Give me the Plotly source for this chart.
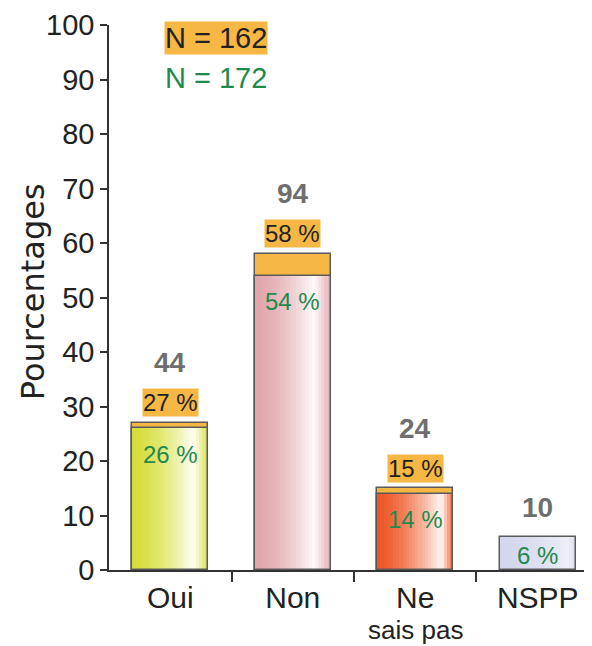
import plotly.graph_objects as go

# ---- data ----
categories = ["Oui", "Non", "Ne sais pas", "NSPP"]
tick_labels = ["Oui", "Non", "Ne", "NSPP"]
tick_sublabels = ["", "", "sais pas", ""]
pct_n162 = [27, 58, 15, None]      # N=162 (orange)
pct_n172 = [26, 54, 14, 6]         # N=172 (gradient bars)
counts = [44, 94, 24, 10]
legend_labels = ["N = 162", "N = 172"]
y_title = "Pourcentages"

# ---- styles ----
base_colors = [(214, 222, 60), (226, 166, 172), (238, 88, 40), (212, 214, 238)]
peak_pos = [0.80, 0.78, 0.84, 0.90]
peak_strength = [0.95, 0.95, 0.95, 0.6]
ORANGE = "#f7b744"
OUTLINE = "#5a5a5a"
GREEN = "#1f8a4c"
GREY = "#6e6e6e"
FONT = "Liberation Sans, Arial, sans-serif"
PX_PER_UNIT = 5.45

x = list(range(len(categories)))
BAR_W = 0.62
N_SLICES = 24

fig = go.Figure()

# orange bars (behind)
fig.add_trace(go.Bar(
    x=x, y=[v if v is not None else 0 for v in pct_n162], width=BAR_W,
    marker=dict(color=ORANGE, line=dict(color=OUTLINE, width=1.5)),
    hoverinfo="skip", showlegend=False))


def mix(c, f):
    return "rgb(%d,%d,%d)" % tuple(round(ch + (255 - ch) * f) for ch in c)


def profile(t, p, s):
    if t <= p:
        return s * (t / p) ** 1.6
    return s * (1 - (t - p) / (1 - p)) ** 0.9 * 0.95 + 0.05 * s


dw = BAR_W / N_SLICES
for i in range(N_SLICES):
    t = (i + 0.5) / N_SLICES
    cols = [mix(base_colors[k], profile(t, peak_pos[k], peak_strength[k])) for k in range(len(x))]
    w = dw * 1.6 if i < N_SLICES - 1 else dw
    fig.add_trace(go.Bar(
        x=x, y=pct_n172, width=[w] * len(x), offset=[-BAR_W / 2 + i * dw] * len(x),
        marker=dict(color=cols, line=dict(width=0)),
        hoverinfo="skip", showlegend=False))

# outline of gradient bars
fig.add_trace(go.Bar(
    x=x, y=pct_n172, width=BAR_W,
    marker=dict(color="rgba(0,0,0,0)", line=dict(color=OUTLINE, width=1.5)),
    hoverinfo="skip", showlegend=False))

fig.update_layout(barmode="overlay", bargap=0)

# labels
for k in x:
    o = pct_n162[k]
    g = pct_n172[k]
    top = max(v for v in (o, g) if v is not None)
    if o is not None:
        fig.add_annotation(x=k, y=o, yshift=20, text="%d %%" % o, showarrow=False,
                           font=dict(family=FONT, size=24, color="#222222"),
                           bgcolor=ORANGE, borderpad=0, yanchor="middle", xanchor="center")
        cshift = 60
    else:
        cshift = 30
    fig.add_annotation(x=k, y=top, yshift=cshift, text="<b>%d</b>" % counts[k], showarrow=False,
                       font=dict(family=FONT, size=28, color=GREY), yanchor="middle",
                       xanchor="center")
    px_h = g * PX_PER_UNIT
    fig.add_annotation(x=k, y=g, yshift=-min(26, 0.55 * px_h), text="%d %%" % g, showarrow=False,
                       font=dict(family=FONT, size=24, color=GREEN), yanchor="middle",
                       xanchor="center")
    if tick_sublabels[k]:
        fig.add_annotation(x=k, y=0, yref="paper", yshift=-43, text=tick_sublabels[k],
                           showarrow=False, yanchor="top", xanchor="center",
                           font=dict(family=FONT, size=26, color="#222222"))

# legend text
fig.add_annotation(xref="paper", yref="paper", x=0.221, y=0.976, text=legend_labels[0],
                   showarrow=False, font=dict(family=FONT, size=29, color="#222222"),
                   bgcolor=ORANGE, borderpad=0, yanchor="middle", xanchor="center")
fig.add_annotation(xref="paper", yref="paper", x=0.221, y=0.903, text=legend_labels[1],
                   showarrow=False, font=dict(family=FONT, size=29, color=GREEN),
                   yanchor="middle", xanchor="center")

# y-axis title
fig.add_annotation(xref="paper", yref="paper", x=-0.157, y=0.51, text=y_title, textangle=-90,
                   showarrow=False, xanchor="center", yanchor="middle",
                   font=dict(family="DejaVu Sans, sans-serif", size=32, color="#222222"))

fig.update_layout(
    width=584, height=638,
    margin=dict(l=101, r=0, t=17, b=76),
    paper_bgcolor="white", plot_bgcolor="white",
    font=dict(family=FONT, color="#222222"),
    xaxis=dict(range=[-0.5, 3.443], tickmode="array", tickvals=x, ticktext=tick_labels,
               ticks="", showline=True, linecolor="#333333", linewidth=1.5,
               tickfont=dict(size=30), showgrid=False, zeroline=False,
               minor=dict(tickmode="array", tickvals=[0.5, 1.5, 2.5], ticks="outside",
                          ticklen=10, tickwidth=1.5, tickcolor="#333333", showgrid=False)),
    yaxis=dict(range=[0, 100], tickmode="array", tickvals=list(range(0, 101, 10)),
               ticks="outside", ticklen=7, tickwidth=1.5, tickcolor="#333333",
               showline=True, linecolor="#333333", linewidth=1.5, showgrid=False,
               zeroline=False, tickfont=dict(size=29)),
)

fig.write_html("out.html")
